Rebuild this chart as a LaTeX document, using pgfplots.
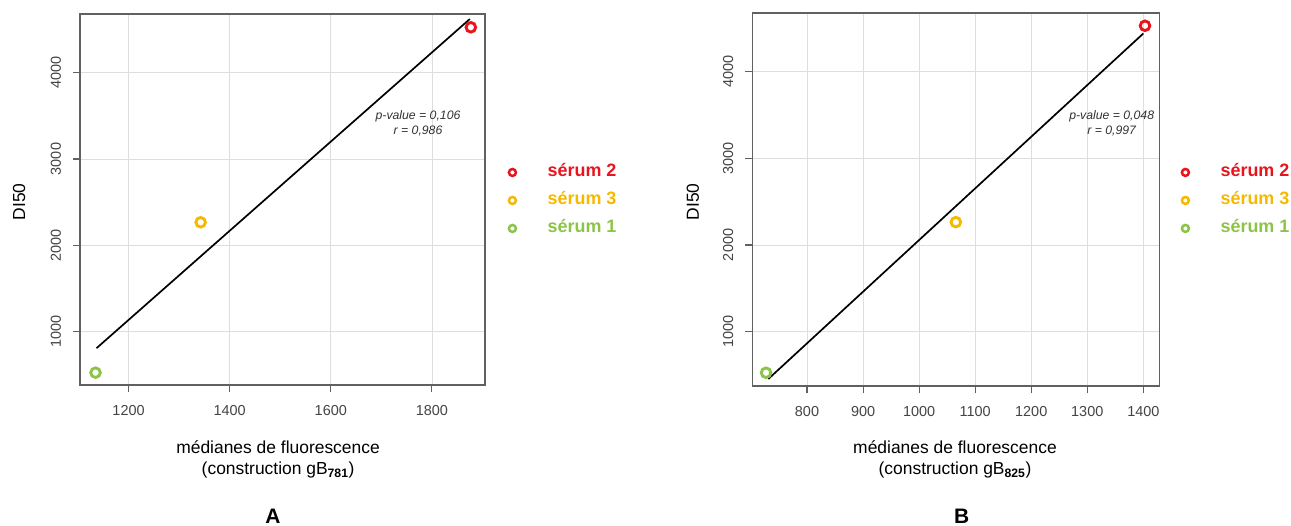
\documentclass[border=0pt]{standalone}
\usepackage{pgfplots}
\pgfplotsset{compat=1.18}
\usepackage{fontspec}
\setmainfont{Liberation Sans}
\definecolor{sred}{RGB}{232,20,30}
\definecolor{syel}{RGB}{246,185,0}
\definecolor{sgrn}{RGB}{140,196,72}
\definecolor{tickgray}{RGB}{68,68,68}
\definecolor{anngray}{RGB}{50,50,50}

\pgfplotsset{
  panel/.style={
    scale only axis, anchor=south west, clip mode=individual,
    axis line style={draw=black!62, line width=1.1bp},
    grid=major, grid style={draw=black!13, line width=0.8bp},
    tick align=outside, major tick length=7bp,
    tick style={draw=black!62, line width=1.1bp},
    xtick pos=left, ytick pos=left,
    tick label style={font=\fontsize{14.5}{17}\selectfont, text=tickgray},
    /pgf/number format/1000 sep={},
    /pgf/number format/assume math mode=true,
    yticklabel style={xshift=-8.5bp, rotate=90, anchor=south},
    xticklabel style={anchor=north, yshift=-10bp},
    ylabel style={anchor=center, font=\fontsize{17.5}{21}\selectfont},
    xlabel style={anchor=center, align=center, font=\fontsize{17.5}{21}\selectfont},
    legend style={draw=none, fill=none, inner sep=0pt, anchor=north west,
      row sep=9bp,
      nodes={inner xsep=1bp, inner ysep=1bp, text height=13bp, text depth=4bp},
      font=\fontsize{18}{21}\selectfont\bfseries},
    legend cell align=left,
    legend image code/.code={\draw[##1, mark size=3.5bp, mark options={line width=2.5bp}] plot coordinates {(8bp,0bp)}; \path (0bp,0bp) (42bp,0bp);},
  },
  serum/.style={only marks, mark=o, mark size=4.8bp, draw=#1, mark options={line width=2.9bp}},
}

\begin{document}
\begin{tikzpicture}
\path[use as bounding box] (0bp,0bp) rectangle (1291bp,526bp);

% Panel A
\begin{axis}[panel,
  at={(80bp,141bp)}, width=405bp, height=371bp,
  xmin=1104, xmax=1905, ymin=382, ymax=4680,
  xtick={1200,1400,1600,1800}, ytick={1000,2000,3000,4000},
  ylabel={DI50},
  ylabel style={at={(axis description cs:-0.1506,0.494)}},
  xlabel={médianes de fluorescence\\(construction gB\textsubscript{\bfseries 781})},
  xlabel style={at={(axis description cs:0.489,-0.2008)}},
  legend style={at={(axis description cs:1.047,0.599)}},
]
\addplot[black, line width=1.7bp, forget plot] coordinates {(1136.6,808) (1875,4622)};
\addplot[serum=sred] coordinates {(1877,4526)};
\addlegendentry{\textcolor{sred}{sérum 2}}
\addplot[serum=syel] coordinates {(1342.6,2267)};
\addlegendentry{\textcolor{syel}{sérum 3}}
\addplot[serum=sgrn] coordinates {(1134.7,525)};
\addlegendentry{\textcolor{sgrn}{sérum 1}}
\node[align=center, text=anngray, font=\fontsize{12.3}{14.7}\selectfont\itshape]
  at (rel axis cs:0.8346,0.7054) {p-value = 0,106\\r = 0,986};
\node[font=\fontsize{21}{24}\selectfont\bfseries] at (rel axis cs:0.4765,-0.3531) {A};
\end{axis}

% Panel B
\begin{axis}[panel,
  at={(752.3bp,140bp)}, width=407bp, height=373bp,
  xmin=702.4, xmax=1428.5, ymin=374, ymax=4674,
  xtick={800,900,1000,1100,1200,1300,1400}, ytick={1000,2000,3000,4000},
  ylabel={DI50},
  ylabel style={at={(axis description cs:-0.146,0.494)}},
  xlabel={médianes de fluorescence\\(construction gB\textsubscript{\bfseries 825})},
  xlabel style={at={(axis description cs:0.498,-0.1971)}},
  legend style={at={(axis description cs:1.0435,0.5986)}},
]
\addplot[black, line width=1.7bp, forget plot] coordinates {(731,455) (1400,4438)};
\addplot[serum=sred] coordinates {(1403,4527)};
\addlegendentry{\textcolor{sred}{sérum 2}}
\addplot[serum=syel] coordinates {(1065.5,2263)};
\addlegendentry{\textcolor{syel}{sérum 3}}
\addplot[serum=sgrn] coordinates {(726.9,527)};
\addlegendentry{\textcolor{sgrn}{sérum 1}}
\node[align=center, text=anngray, font=\fontsize{12.3}{14.7}\selectfont\itshape]
  at (rel axis cs:0.883,0.704) {p-value = 0,048\\r = 0,997};
\node[font=\fontsize{21}{24}\selectfont\bfseries] at (rel axis cs:0.5145,-0.3485) {B};
\end{axis}
\end{tikzpicture}
\end{document}
